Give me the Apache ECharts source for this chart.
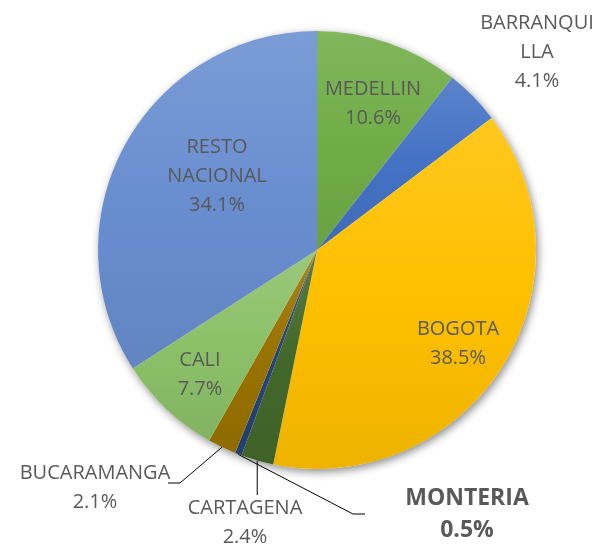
<!DOCTYPE html>
<html>
<head>
<meta charset="utf-8">
<script src="https://cdn.jsdelivr.net/npm/echarts@6/dist/echarts.min.js"></script>
<style>
html,body{margin:0;padding:0;background:#fff;}
#c{width:603px;height:546px;}
</style>
</head>
<body>
<div id="c"></div>
<script>
// ---- data ----
var categories = ['MEDELLIN', 'BARRANQUILLA', 'BOGOTA', 'CARTAGENA', 'MONTERIA', 'BUCARAMANGA', 'CALI', 'RESTO NACIONAL'];
var shares = [10.6, 4.1, 38.5, 2.4, 0.5, 2.1, 7.7, 34.1];
var displayNames = ['MEDELLIN', 'BARRANQUI\nLLA', 'BOGOTA', 'CARTAGENA', 'MONTERIA', 'BUCARAMANGA', 'CALI', 'RESTO\nNACIONAL'];

// ---- styling / layout ----
var baseColors = ['#70AD47', '#4472C4', '#FFC000', '#43682B', '#264478', '#997300', '#8CC168', '#698ED0'];
var outsideIdx = [3, 4, 5];
var labelPos = [
  [373, 104], [537, 52], [458, 344], [245, 523], [467, 514], [95, 488], [200, 375], [217, 176]
];
var leaderTail = {
  3: function (s) { return [[s[0], 495]]; },
  4: function (s) { return [[353, 514], [365, 514]]; },
  5: function (s) { return [[180, 483], [168, 483]]; }
};

function mix(hex, target, t) {
  var n = parseInt(hex.slice(1), 16);
  var r = (n >> 16) & 255, g = (n >> 8) & 255, b = n & 255;
  r = Math.round(r + (target - r) * t);
  g = Math.round(g + (target - g) * t);
  b = Math.round(b + (target - b) * t);
  return 'rgb(' + r + ',' + g + ',' + b + ')';
}
function grad(hex) {
  return {
    type: 'linear', x: 0, y: 0, x2: 0, y2: 1,
    colorStops: [
      { offset: 0, color: mix(hex, 255, 0.12) },
      { offset: 0.5, color: hex },
      { offset: 1, color: mix(hex, 0, 0.07) }
    ]
  };
}

var data = categories.map(function (name, i) {
  var outside = outsideIdx.indexOf(i) >= 0;
  return {
    name: name,
    value: shares[i],
    itemStyle: { color: grad(baseColors[i]) },
    label: {
      position: outside ? 'outside' : 'inside',
      fontWeight: i === 4 ? 'bold' : 'normal',
      fontSize: i === 4 ? 23 : 20,
      lineHeight: i === 4 ? 32 : 29
    },
    labelLine: { show: outside, lineStyle: { color: '#000', width: 1 } }
  };
});

var chart = echarts.init(document.getElementById('c'), null, { renderer: 'canvas' });
chart.setOption({
  backgroundColor: '#fff',
  animation: false,
  series: [
    {
      type: 'pie',
      silent: true,
      center: [317, 250],
      radius: 219,
      z: 1,
      label: { show: false },
      labelLine: { show: false },
      itemStyle: {
        color: '#fff',
        shadowBlur: 9,
        shadowOffsetX: 2,
        shadowOffsetY: 3,
        shadowColor: 'rgba(0,0,0,0.45)'
      },
      data: [{ value: 1, name: '' }]
    },
    {
      type: 'pie',
      z: 2,
      center: [317, 250],
      radius: 219,
      startAngle: 90,
      clockwise: true,
      avoidLabelOverlap: false,
      itemStyle: { borderWidth: 0 },
      label: {
        show: true,
        color: '#595959',
        fontFamily: 'Open Sans',
        fontSize: 20,
        lineHeight: 29,
        align: 'center',
        formatter: function (p) {
          return displayNames[p.dataIndex] + '\n' + p.value.toFixed(1) + '%';
        }
      },
      labelLine: { length: 20, length2: 10 },
      labelLayout: function (p) {
        var i = p.dataIndex;
        var res = { x: labelPos[i][0], y: labelPos[i][1], align: 'center', verticalAlign: 'middle' };
        if (leaderTail[i] && p.labelLinePoints) {
          var s = p.labelLinePoints[0];
          res.labelLinePoints = [s].concat(leaderTail[i](s));
        }
        return res;
      },
      data: data
    }
  ]
});
</script>
</body>
</html>
